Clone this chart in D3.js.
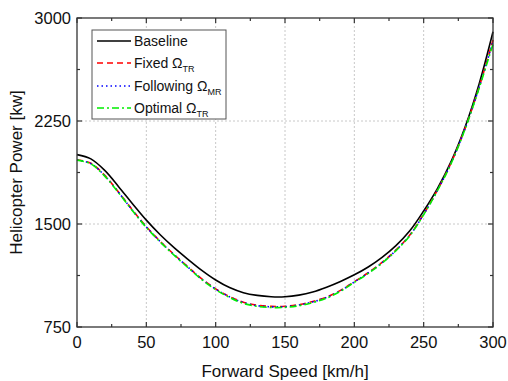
<!DOCTYPE html>
<html>
<head>
<meta charset="utf-8">
<script src="https://cdn.jsdelivr.net/npm/d3@7.9.0/dist/d3.min.js"></script>
<style>
  body { margin: 0; background: #fff; }
  svg { font-family: "Liberation Sans", Arial, sans-serif; }
</style>
</head>
<body>
<svg id="chart" width="508" height="381"></svg>
<script>
// forward speed [km/h]
const speed = [0, 10, 20, 30, 40, 50, 60, 70, 80, 90, 100, 110, 120, 130, 140, 150, 160, 170, 180, 190, 200, 210, 220, 230, 240, 250, 260, 270, 280, 290, 300];

// helicopter power [kw]
const baseline = [2005, 1974, 1890, 1772, 1648, 1528, 1422, 1328, 1243, 1162, 1092, 1037, 1000, 980, 970, 970, 982, 1005, 1040, 1082, 1130, 1187, 1257, 1342, 1450, 1595, 1760, 1960, 2210, 2520, 2900];
const fixedTR = [1968, 1942, 1854, 1732, 1602, 1480, 1374, 1278, 1188, 1100, 1028, 972, 930, 908, 900, 901, 913, 936, 968, 1017, 1080, 1145, 1220, 1310, 1420, 1572, 1748, 1950, 2200, 2497, 2840];
const followMR = [1966, 1940, 1852, 1730, 1600, 1478, 1372, 1276, 1186, 1098, 1026, 970, 928, 905, 897, 898, 910, 933, 965, 1014, 1078, 1143, 1218, 1308, 1418, 1570, 1746, 1948, 2198, 2494, 2830];
const optimalTR = [1965, 1938, 1849, 1727, 1597, 1475, 1369, 1273, 1183, 1095, 1022, 965, 922, 900, 892, 893, 905, 928, 960, 1010, 1075, 1140, 1215, 1305, 1415, 1568, 1745, 1945, 2195, 2490, 2810];

const xTicks = [0, 50, 100, 150, 200, 250, 300];
const yTicks = [750, 1500, 2250, 3000];

const series = [
  { name: 'Baseline', sub: '', values: baseline, color: '#000', dash: null },
  { name: 'Fixed \u03A9', sub: 'TR', values: fixedTR, color: '#ff0000', dash: '6,4' },
  { name: 'Following \u03A9', sub: 'MR', values: followMR, color: '#0000ff', dash: '1.5,3' },
  { name: 'Optimal \u03A9', sub: 'TR', values: optimalTR, color: '#00ee00', dash: '7,3,2,3' },
];

const svg = d3.select('#chart');
const pLeft = 77, pRight = 493, pTop = 18, pBottom = 327;

const x = d3.scaleLinear().domain([0, 300]).range([pLeft, pRight]);
const y = d3.scaleLinear().domain([750, 3000]).range([pBottom, pTop]);

// grid
const grid = svg.append('g').attr('stroke', '#c8c8c8').attr('stroke-dasharray', '2,2').attr('stroke-width', 1);
xTicks.slice(1, -1).forEach(t => {
  grid.append('line').attr('x1', x(t)).attr('x2', x(t)).attr('y1', pTop).attr('y2', pBottom);
});
yTicks.slice(1, -1).forEach(t => {
  grid.append('line').attr('x1', pLeft).attr('x2', pRight).attr('y1', y(t)).attr('y2', y(t));
});

// curves
const line = d3.line().x((d, i) => x(speed[i])).y(d => y(d)).curve(d3.curveCatmullRom.alpha(0.5));
series.forEach(s => {
  svg.append('path')
    .attr('d', line(s.values))
    .attr('fill', 'none')
    .attr('stroke', s.color)
    .attr('stroke-width', 1.6)
    .attr('stroke-dasharray', s.dash);
});

// axes (inward ticks on all four sides)
const minorX = d3.range(25, 300, 50);
const minorY = d3.range(1125, 3000, 750);
const axisG = svg.append('g').attr('stroke', '#333').attr('stroke-width', 1.2);
xTicks.forEach(t => {
  axisG.append('line').attr('x1', x(t)).attr('x2', x(t)).attr('y1', pBottom).attr('y2', pBottom - 5);
  axisG.append('line').attr('x1', x(t)).attr('x2', x(t)).attr('y1', pTop).attr('y2', pTop + 5);
});
minorX.forEach(t => {
  axisG.append('line').attr('x1', x(t)).attr('x2', x(t)).attr('y1', pBottom).attr('y2', pBottom - 3);
  axisG.append('line').attr('x1', x(t)).attr('x2', x(t)).attr('y1', pTop).attr('y2', pTop + 3);
});
yTicks.forEach(t => {
  axisG.append('line').attr('x1', pLeft).attr('x2', pLeft + 5).attr('y1', y(t)).attr('y2', y(t));
  axisG.append('line').attr('x1', pRight).attr('x2', pRight - 5).attr('y1', y(t)).attr('y2', y(t));
});
minorY.forEach(t => {
  axisG.append('line').attr('x1', pLeft).attr('x2', pLeft + 3).attr('y1', y(t)).attr('y2', y(t));
  axisG.append('line').attr('x1', pRight).attr('x2', pRight - 3).attr('y1', y(t)).attr('y2', y(t));
});
svg.append('rect')
  .attr('x', pLeft).attr('y', pTop).attr('width', pRight - pLeft).attr('height', pBottom - pTop)
  .attr('fill', 'none').attr('stroke', '#333').attr('stroke-width', 1.3);

// tick labels
svg.append('g').selectAll('text').data(xTicks).join('text')
  .attr('x', d => x(d)).attr('y', pBottom + 21)
  .attr('text-anchor', 'middle').attr('font-size', 16.5).attr('fill', '#111')
  .text(d => d);
svg.append('g').selectAll('text').data(yTicks).join('text')
  .attr('x', pLeft - 6).attr('y', d => y(d) + 6)
  .attr('text-anchor', 'end').attr('font-size', 16.5).attr('fill', '#111')
  .text(d => d);

// axis titles
svg.append('text').attr('x', (pLeft + pRight) / 2).attr('y', 377)
  .attr('text-anchor', 'middle').attr('font-size', 17).attr('fill', '#111')
  .text('Forward Speed [km/h]');
svg.append('text').attr('transform', `translate(22,${(pTop + pBottom) / 2}) rotate(-90)`)
  .attr('text-anchor', 'middle').attr('font-size', 17).attr('fill', '#111')
  .text('Helicopter Power [kw]');

// legend
const legend = svg.append('g');
legend.append('rect').attr('x', 92).attr('y', 30).attr('width', 134).attr('height', 89)
  .attr('fill', '#fff').attr('stroke', '#555').attr('stroke-width', 1);
const rowY = [41, 63, 86, 108];
series.forEach((s, i) => {
  legend.append('line').attr('x1', 97).attr('x2', 131).attr('y1', rowY[i]).attr('y2', rowY[i])
    .attr('stroke', s.color).attr('stroke-width', 1.6).attr('stroke-dasharray', s.dash);
  const t = legend.append('text').attr('x', 134).attr('y', rowY[i] + 5)
    .attr('font-size', 14).attr('fill', '#111');
  t.append('tspan').text(s.name);
  if (s.sub) t.append('tspan').attr('font-size', 9).attr('dy', 4).text(s.sub);
});
</script>
</body>
</html>
